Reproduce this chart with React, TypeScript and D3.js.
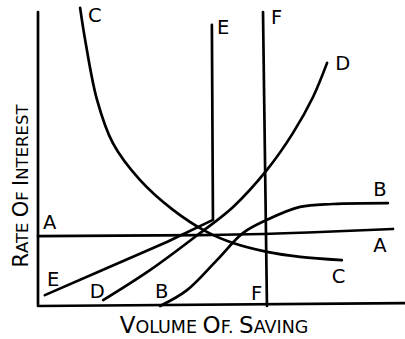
import React, { useEffect, useRef } from "react";
import { select, scaleLinear, line, curveMonotoneX, curveLinear, curveCatmullRom } from "d3";

// curves, volume of saving (0-100) vs rate of interest (0-100)
const curveA = [[0, 23.8], [45, 24.1], [75, 25], [98.6, 26.2]];
const curveB = [[33.9, 0], [41.4, 5.4], [49.7, 15.6], [56.9, 24.8], [63.6, 29.3], [72.8, 33.7], [81.9, 34.7], [97.2, 35]];
const curveC = [[11.7, 101.4], [13.1, 90.5], [16.4, 70.1], [20.8, 55.4], [28.3, 42.9], [37.5, 32.7], [46.9, 25.2], [54.2, 21.4], [63.6, 18.4], [72.8, 16.7], [84.4, 15.6]];
const curveD = [[18.1, 2.0], [31.1, 12.2], [45, 24.8], [54.2, 33.7], [63.6, 46.3], [70.8, 58.8], [76.4, 71.1], [80.3, 82.7]];
const curveE = [[1.9, 3.7], [19.2, 12.9], [35.8, 21.8], [48.6, 29.3], [48.3, 95.6]];
const curveF = [[62.5, 100], [63.6, 0]];

// letter labels [text, x, y] (x,y = left/baseline in data units)
const curveLabels = [
  ["C", 13.9, 96.6],
  ["E", 49.7, 92.5],
  ["F", 64.7, 95.9],
  ["D", 82.6, 80.3],
  ["B", 93.1, 37.4],
  ["A", 1.4, 26.2],
  ["A", 93.1, 18.4],
  ["C", 81.6, 7.8],
  ["E", 2.5, 6.8],
  ["D", 14.4, 2.7],
  ["B", 32.5, 2.7],
  ["F", 59.2, 2.0],
];

const xLabel = [["V", 1], ["OLUME ", 0], ["O", 1], ["F. ", 0], ["S", 1], ["AVING", 0]];
const yLabel = [["R", 1], ["ATE ", 0], ["O", 1], ["F ", 0], ["I", 1], ["NTEREST", 0]];

function Chart() {
  const svgRef = useRef<SVGSVGElement>(null);

  useEffect(() => {
    const svg = select(svgRef.current);
    svg.selectAll("*").remove();

    const x = scaleLinear().domain([0, 100]).range([38, 398]);
    const y = scaleLinear().domain([0, 100]).range([306, 12]);

    const smooth = line<number[]>().x(d => x(d[0])).y(d => y(d[1])).curve(curveMonotoneX);
    const bendy = line<number[]>().x(d => x(d[0])).y(d => y(d[1])).curve(curveCatmullRom);
    const straight = line<number[]>().x(d => x(d[0])).y(d => y(d[1])).curve(curveLinear);

    const g = svg.append("g")
      .attr("fill", "none")
      .attr("stroke", "#000")
      .attr("stroke-width", 2.7)
      .attr("stroke-linecap", "round")
      .attr("stroke-linejoin", "round");

    // axes
    g.append("path").attr("d", straight([[0, 100], [0, 0], [101.9, 1]]));

    g.append("path").attr("d", smooth(curveA));
    g.append("path").attr("d", bendy(curveB));
    g.append("path").attr("d", bendy(curveC));
    g.append("path").attr("d", bendy(curveD));
    g.append("path").attr("d", straight(curveE));
    g.append("path").attr("d", straight(curveF));

    svg.append("g")
      .selectAll("text")
      .data(curveLabels)
      .join("text")
      .attr("x", d => x(d[1] as number))
      .attr("y", d => y(d[2] as number))
      .attr("font-family", "DejaVu Sans")
      .attr("font-size", 19.5)
      .text(d => d[0] as string);

    const xt = svg.append("text")
      .attr("x", 214)
      .attr("y", 333)
      .attr("text-anchor", "middle")
      .attr("font-family", "DejaVu Sans");
    xt.selectAll("tspan").data(xLabel).join("tspan")
      .attr("font-size", d => (d[1] ? 23 : 17.5))
      .text(d => d[0] as string);

    const yt = svg.append("text")
      .attr("transform", "translate(28,186) rotate(-90)")
      .attr("text-anchor", "middle")
      .attr("font-family", "DejaVu Sans");
    yt.selectAll("tspan").data(yLabel).join("tspan")
      .attr("font-size", d => (d[1] ? 21 : 16.5))
      .text(d => d[0] as string);
  }, []);

  return (
    <svg ref={svgRef} width={405} height={339}
      style={{ position: "absolute", left: 0, top: 0, background: "#fff" }} />
  );
}

export default function App() {
  return <Chart />;
}
